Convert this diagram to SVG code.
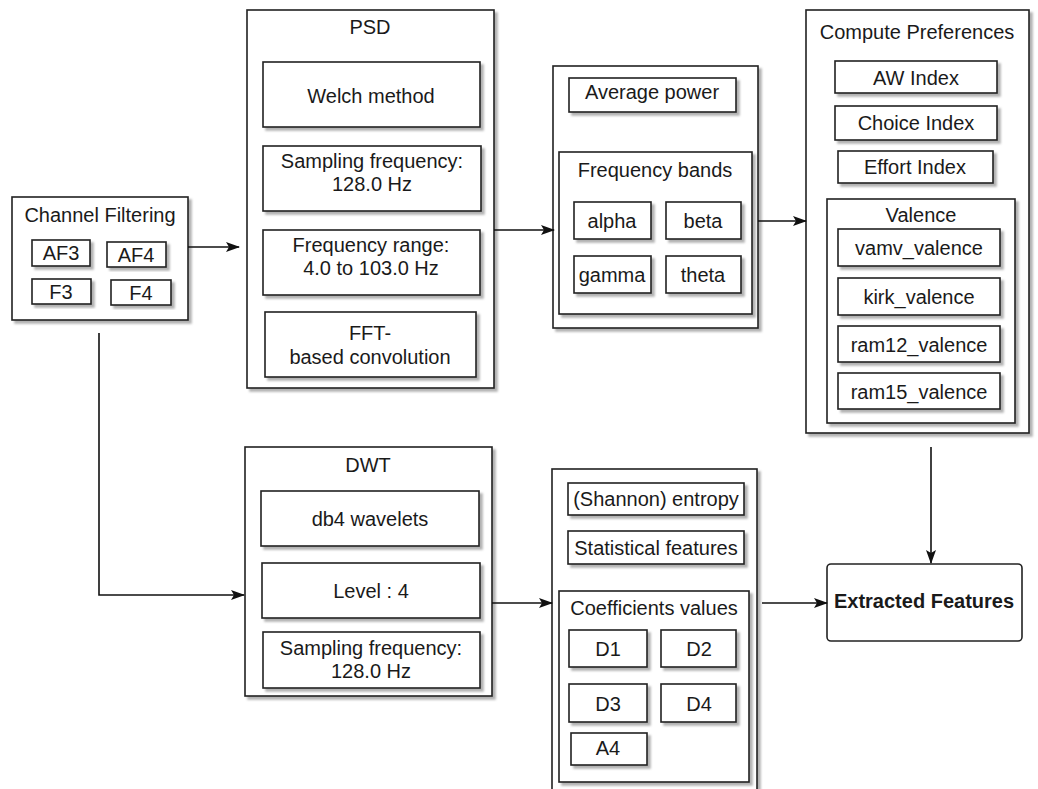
<svg xmlns="http://www.w3.org/2000/svg" width="1038" height="789" viewBox="0 0 1038 789">
<defs>
<filter id="sh" x="-10%" y="-10%" width="130%" height="130%">
<feDropShadow dx="3" dy="3" stdDeviation="1.2" flood-color="#000" flood-opacity="0.3"/>
</filter>
<marker id="ah" markerWidth="14" markerHeight="10" refX="13" refY="5" orient="auto" markerUnits="userSpaceOnUse">
<path d="M0,0 L14,5 L0,10 L3,5 Z" fill="#111"/>
</marker>
<style>
rect{fill:#fff;stroke:#222;stroke-width:1.6;filter:url(#sh)}
text{font-family:"Liberation Sans",Arial,sans-serif;font-size:20px;fill:#1a1a1a;text-anchor:middle}
.b{font-weight:bold}
.c{fill:none;stroke:#111;stroke-width:1.6;marker-end:url(#ah)}
</style>
</defs>
<rect x="0" y="0" width="1038" height="789" style="fill:#fff;stroke:none;filter:none"/>

<g id="channel-filtering">
<rect x="12" y="197" width="176" height="123"/>
<text x="100" y="222">Channel Filtering</text>
<g id="af3"><rect x="32" y="240" width="58" height="26"/><text x="61" y="260">AF3</text></g>
<g id="af4"><rect x="107" y="242" width="59" height="25"/><text x="136" y="262">AF4</text></g>
<g id="f3"><rect x="32" y="279" width="59" height="25"/><text x="61" y="299">F3</text></g>
<g id="f4"><rect x="111" y="280" width="60" height="25"/><text x="141" y="300">F4</text></g>
</g>

<g id="psd">
<rect x="247" y="10" width="247" height="378"/>
<text x="370" y="34">PSD</text>
<g id="welch"><rect x="263" y="62" width="217" height="65"/><text x="371" y="103">Welch method</text></g>
<g id="psd-fs"><rect x="263" y="146" width="218" height="65"/><text x="372" y="168">Sampling frequency:</text><text x="372" y="191">128.0 Hz</text></g>
<g id="psd-range"><rect x="263" y="230" width="217" height="65"/><text x="371" y="252">Frequency range:</text><text x="371" y="275">4.0 to 103.0 Hz</text></g>
<g id="fft"><rect x="265" y="312" width="211" height="65"/><text x="370" y="340">FFT-</text><text x="370" y="364">based convolution</text></g>
</g>

<g id="band-power">
<rect x="553" y="66" width="205" height="262"/>
<g id="avg-power"><rect x="569" y="78" width="167" height="34"/><text x="652" y="99">Average power</text></g>
<g id="freq-bands">
<rect x="559" y="152" width="193" height="162"/>
<text x="655" y="177">Frequency bands</text>
<g id="alpha"><rect x="574" y="202" width="77" height="37"/><text x="612" y="228">alpha</text></g>
<g id="beta"><rect x="666" y="202" width="75" height="37"/><text x="703" y="228">beta</text></g>
<g id="gamma"><rect x="574" y="256" width="77" height="37"/><text x="612" y="282">gamma</text></g>
<g id="theta"><rect x="666" y="256" width="75" height="37"/><text x="703" y="282">theta</text></g>
</g>
</g>

<g id="compute-preferences">
<rect x="806" y="10" width="223" height="423"/>
<text x="917" y="39">Compute Preferences</text>
<g id="aw"><rect x="835" y="61" width="162" height="32"/><text x="916" y="85">AW Index</text></g>
<g id="choice"><rect x="835" y="106" width="162" height="34"/><text x="916" y="130">Choice Index</text></g>
<g id="effort"><rect x="838" y="151" width="155" height="32"/><text x="915" y="174">Effort Index</text></g>
<g id="valence">
<rect x="827" y="199" width="188" height="224"/>
<text x="921" y="222">Valence</text>
<g id="vamv"><rect x="838" y="229" width="162" height="37"/><text x="919" y="255">vamv_valence</text></g>
<g id="kirk"><rect x="838" y="278" width="162" height="37"/><text x="919" y="304">kirk_valence</text></g>
<g id="ram12"><rect x="838" y="326" width="162" height="36"/><text x="919" y="352">ram12_valence</text></g>
<g id="ram15"><rect x="838" y="373" width="162" height="36"/><text x="919" y="399">ram15_valence</text></g>
</g>
</g>

<g id="dwt">
<rect x="245" y="447" width="247" height="249"/>
<text x="368" y="472">DWT</text>
<g id="db4"><rect x="261" y="491" width="218" height="55"/><text x="370" y="526">db4 wavelets</text></g>
<g id="level"><rect x="262" y="563" width="218" height="55"/><text x="371" y="598">Level : 4</text></g>
<g id="dwt-fs"><rect x="263" y="632" width="217" height="56"/><text x="371" y="655">Sampling frequency:</text><text x="371" y="678">128.0 Hz</text></g>
</g>

<g id="wavelet-features">
<rect x="552" y="469" width="205" height="335"/>
<g id="entropy"><rect x="568" y="483" width="176" height="32"/><text x="656" y="506">(Shannon) entropy</text></g>
<g id="stat"><rect x="568" y="531" width="176" height="33"/><text x="656" y="555">Statistical features</text></g>
<g id="coeff">
<rect x="559" y="591" width="190" height="191"/>
<text x="654" y="615">Coefficients values</text>
<g id="d1"><rect x="569" y="630" width="78" height="37"/><text x="608" y="656">D1</text></g>
<g id="d2"><rect x="661" y="630" width="75" height="37"/><text x="699" y="656">D2</text></g>
<g id="d3"><rect x="569" y="684" width="78" height="38"/><text x="608" y="711">D3</text></g>
<g id="d4"><rect x="661" y="684" width="75" height="38"/><text x="699" y="711">D4</text></g>
<g id="a4"><rect x="571" y="733" width="76" height="32"/><text x="608" y="755">A4</text></g>
</g>
</g>

<g id="extracted-features">
<rect x="827" y="564" width="195" height="77" rx="4" style="filter:none"/>
<text class="b" x="924" y="608">Extracted Features</text>
</g>

<g id="connectors">
<path class="c" d="M188,247 H239"/>
<path class="c" d="M99,333 V595 H244"/>
<path class="c" d="M494,230 H554"/>
<path class="c" d="M758,221 H806"/>
<path class="c" d="M931,447 V563"/>
<path class="c" d="M492,603 H552"/>
<path class="c" d="M762,603 H827"/>
</g>
</svg>
